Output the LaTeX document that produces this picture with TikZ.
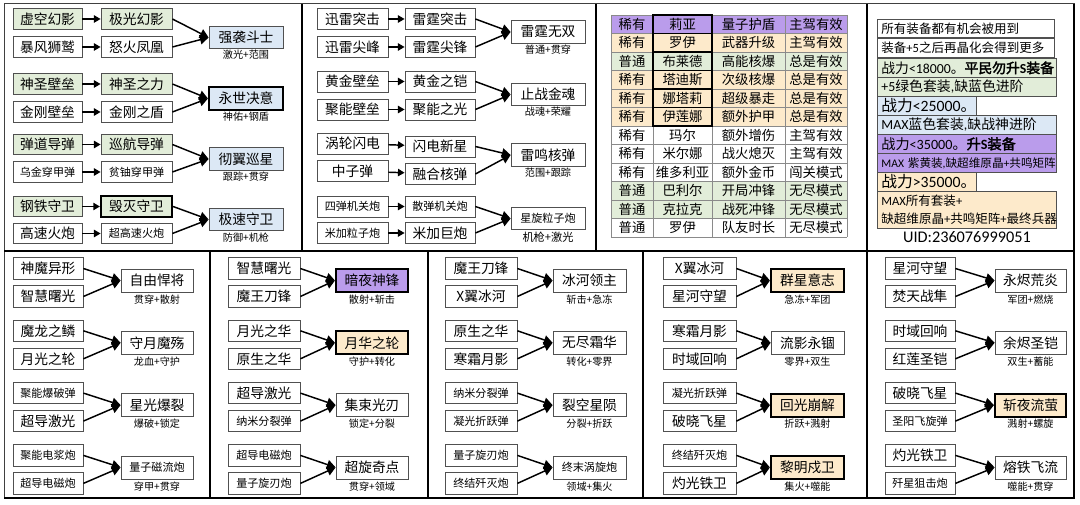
\documentclass[tikz,border=0pt]{standalone}
\usepackage{fontspec}
\usetikzlibrary{arrows.meta}
\newfontfamily\cjk{Noto Sans CJK SC}
\newfontfamily\cjkb[FakeBold=2.5]{Noto Sans CJK SC}
\newfontfamily\lat{Carlito}
\definecolor{cgrn}{HTML}{E2EDD9}
\definecolor{cblu}{HTML}{DCE8F5}
\definecolor{cpur}{HTML}{BA9CEB}
\definecolor{ccrm}{HTML}{FDEACB}
\definecolor{edge}{HTML}{505050}
\definecolor{tgridc}{HTML}{8A8A8A}
\newcommand\smf{\fontsize{8.3}{10}\selectfont}
\newcommand\TA[1]{%
  \draw[arr] (#1a) -- (#1b);
  \draw[arr] (#1c) -- (#1d);
  \draw[conv] (#1b.east) -- (#1r.west);
  \draw[conv] (#1d.east) -- (#1r.west);}
\newcommand\BG[9]{%
  \pgfmathsetmacro\yT{268.5+62.3*#4}%
  \pgfmathsetmacro\yB{\yT+28}%
  \pgfmathsetmacro\yR{\yT+12}%
  \node[inp,inw,ht=21.5] (#1a) at (#2,\yT) {#5};
  \node[inp,inw,ht=21.5] (#1b) at (#2,\yB) {#6};
  \node[res,rsw,ht=23,#8] (#1r) at (#3,\yR) {#7};
  \node[lab] (#1l) at (#3,\yR+19) {#9};
  \draw[conv] (#1a.east) -- (#1r.west);
  \draw[conv] (#1b.east) -- (#1r.west);}
\begin{document}
\begin{tikzpicture}[x=0.75pt,y=-0.75pt,
  wd/.style={minimum width=#1*0.75pt},
  ht/.style={minimum height=#1*0.75pt},
  inp/.style={draw=edge,line width=0.6pt,fill=white,inner sep=0pt,ht=20.5,font=\cjk\fontsize{10.3}{12}\selectfont},
  res/.style={inp,ht=22.5},
  lab/.style={inner sep=0pt,font=\cjk\fontsize{7.6}{9}\selectfont},
  thk/.style={draw=black,line width=1.6pt},
  arr/.style={-{Triangle[length=5pt,width=5.5pt]},line width=1.1pt},
  conv/.style={-{Triangle[length=6.5pt,width=7pt]},line width=1.1pt},
  tgrid/.style={draw=tgridc,line width=0.5pt},
  tcell/.style={inner sep=0pt,font=\cjk\fontsize{10}{12}\selectfont},
  p4/.style={draw=edge,line width=0.6pt,anchor=north west,inner xsep=3pt,inner ysep=0pt,align=left,text width=#1*0.75pt-6pt,minimum width=#1*0.75pt},
  f94/.style={font=\cjk\fontsize{9.4}{11}\selectfont},
  f104/.style={font=\cjk\fontsize{10.4}{12}\selectfont},
  f106/.style={font=\cjk\fontsize{10.6}{12}\selectfont},
  f118/.style={font=\cjk\fontsize{11.8}{13}\selectfont}]
\useasboundingbox (0,0) rectangle (1080,505);
\fill[white] (0,0) rectangle (1080,505);

% ---------- Panel 1 ----------
\node[inp,wd=69,fill=cgrn] (p1Aa) at (47.5,19) {虚空幻影};
\node[inp,wd=71,fill=cgrn] (p1Ab) at (136.5,19) {极光幻影};
\node[inp,wd=69] (p1Ac) at (47.5,47) {暴风狮鹫};
\node[inp,wd=71] (p1Ad) at (136.5,47) {怒火凤凰};
\node[res,wd=74,fill=cblu] (p1Ar) at (246,37.5) {强袭斗士};
\node[lab] (p1Al) at (246,55) {激光+范围};
\TA{p1A}

\node[inp,wd=69,fill=cgrn] (p1Ba) at (47.5,84) {神圣壁垒};
\node[inp,wd=71,fill=cgrn] (p1Bb) at (136.5,84) {神圣之力};
\node[inp,wd=69] (p1Bc) at (47.5,112) {金刚壁垒};
\node[inp,wd=71] (p1Bd) at (136.5,112) {金刚之盾};
\node[res,wd=74,fill=cblu,thk] (p1Br) at (246,98.5) {永世决意};
\node[lab] (p1Bl) at (246,117) {神佑+钢盾};
\TA{p1B}

\node[inp,wd=69,fill=cgrn] (p1Ca) at (47.5,144.5) {弹道导弹};
\node[inp,wd=71,fill=cgrn] (p1Cb) at (136.5,144.5) {巡航导弹};
\node[inp,wd=69] (p1Cc) at (47.5,172) {\smf 乌金穿甲弹};
\node[inp,wd=71] (p1Cd) at (136.5,172) {\smf 贫铀穿甲弹};
\node[res,wd=74,fill=cblu] (p1Cr) at (246,159) {彻翼巡星};
\node[lab] (p1Cl) at (246,176.5) {跟踪+贯穿};
\TA{p1C}

\node[inp,wd=69,fill=cgrn] (p1Da) at (47.5,206.5) {钢铁守卫};
\node[inp,wd=71,fill=cgrn,thk] (p1Db) at (136.5,206.5) {毁灭守卫};
\node[inp,wd=69] (p1Dc) at (47.5,233.5) {高速火炮};
\node[inp,wd=71] (p1Dd) at (136.5,233.5) {\smf 超高速火炮};
\node[res,wd=74,fill=cblu] (p1Dr) at (246,219.5) {极速守卫};
\node[lab] (p1Dl) at (246,237.5) {防御+机枪};
\TA{p1D}

% ---------- Panel 2 ----------
\node[inp,wd=71,ht=21] (p2Aa) at (352.5,19) {迅雷突击};
\node[inp,wd=70,ht=21] (p2Ab) at (440,19) {雷霆突击};
\node[inp,wd=71,ht=21] (p2Ac) at (352.5,47) {迅雷尖峰};
\node[inp,wd=70,ht=21] (p2Ad) at (440,47) {雷霆尖锋};
\node[res,wd=74] (p2Ar) at (548,32) {雷霆无双};
\node[lab] (p2Al) at (548,50) {普通+贯穿};
\TA{p2A}

\node[inp,wd=71,ht=21] (p2Ba) at (352.5,81.5) {黄金壁垒};
\node[inp,wd=70,ht=21] (p2Bb) at (440,81.5) {黄金之铠};
\node[inp,wd=71,ht=21] (p2Bc) at (352.5,109.5) {聚能壁垒};
\node[inp,wd=70,ht=21] (p2Bd) at (440,109.5) {聚能之光};
\node[res,wd=74] (p2Br) at (548,94.5) {止战金魂};
\node[lab] (p2Bl) at (548,112) {战魂+荣耀};
\TA{p2B}

\node[inp,wd=71,ht=21] (p2Ca) at (352.5,143.5) {涡轮闪电};
\node[inp,wd=70,ht=21] (p2Cb) at (440,146.5) {闪电新星};
\node[inp,wd=71,ht=21] (p2Cc) at (352.5,171) {中子弹};
\node[inp,wd=70,ht=21] (p2Cd) at (440,174) {融合核弹};
\node[res,wd=74] (p2Cr) at (548,155) {雷鸣核弹};
\node[lab] (p2Cl) at (548,173) {范围+跟踪};
\TA{p2C}

\node[inp,wd=71,ht=21] (p2Da) at (352.5,206.5) {\smf 四弹机关炮};
\node[inp,wd=70,ht=21] (p2Db) at (440,206.5) {\smf 散弹机关炮};
\node[inp,wd=71,ht=21] (p2Dc) at (352.5,233) {\smf 米加粒子炮};
\node[inp,wd=70,ht=21] (p2Dd) at (440,233) {米加巨炮};
\node[res,wd=74] (p2Dr) at (548,218.5) {\smf 星旋粒子炮};
\node[lab,font=\cjk\fontsize{8.4}{10}\selectfont] (p2Dl) at (548,237) {机枪+激光};
\TA{p2D}

% ---------- Panel 3: table ----------
\foreach \r/\cc in {1/cpur,2/ccrm,3/cgrn,4/ccrm,5/ccrm,6/ccrm,7/white,8/white,9/white,10/cgrn,11/cgrn,12/white}
  \fill[\cc] (611,{15+18.5*(\r-1)}) rectangle (847,{15+18.5*\r});
\foreach \x in {611,653,712,785,847} \draw[tgrid] (\x,15) -- (\x,237);
\foreach \r in {0,...,12} \draw[tgrid] (611,{15+18.5*\r}) -- (847,{15+18.5*\r});
\foreach \r in {1,...,6} \draw[line width=1.4pt] (653,{15+18.5*(\r-1)}) rectangle (712,{15+18.5*\r});
\foreach \r/\a/\b/\c/\d in {
1/稀有/莉亚/量子护盾/主驾有效,
2/稀有/罗伊/武器升级/主驾有效,
3/普通/布莱德/高能核爆/总是有效,
4/稀有/塔迪斯/次级核爆/总是有效,
5/稀有/娜塔莉/超级暴走/总是有效,
6/稀有/伊莲娜/额外护甲/总是有效,
7/稀有/玛尔/额外增伤/主驾有效,
8/稀有/米尔娜/战火熄灭/主驾有效,
9/稀有/维多利亚/额外金币/闯关模式,
10/普通/巴利尔/开局冲锋/无尽模式,
11/普通/克拉克/战死冲锋/无尽模式,
12/普通/罗伊/队友时长/无尽模式}{
  \node[tcell] (t\r-1) at (632,{15+18.5*(\r-0.5)}) {\a};
  \node[tcell] (t\r-2) at (682.5,{15+18.5*(\r-0.5)}) {\b};
  \node[tcell] (t\r-3) at (748.5,{15+18.5*(\r-0.5)}) {\c};
  \node[tcell] (t\r-4) at (816,{15+18.5*(\r-0.5)}) {\d};
}

% ---------- Panel 4 ----------
\node[p4=177,ht=18,fill=white,f94] (n1) at (877,19) {\mbox{所有装备都有机会被用到}};
\node[p4=177,ht=19,fill=white,f94] (n2) at (877,38) {\mbox{装备{\lat +5}之后再晶化会得到更多}};
\node[p4=179,ht=19,fill=cgrn,font=\cjk\fontsize{10.35}{12}\selectfont] (n3) at (877,58) {\mbox{战力{\lat <18000}。{\cjkb 平民勿升}{\lat\bfseries S}{\cjkb 装备}}};
\node[p4=179,ht=19,fill=cgrn,f104] (n4) at (877,77) {\mbox{{\lat +5}绿色套装{\lat ,}缺蓝色进阶}};
\node[p4=99,ht=19,fill=cblu,f118] (n5) at (877,96) {\mbox{战力{\lat <25000}。}};
\node[p4=179,ht=19,fill=cblu,f104] (n6) at (877,115) {\mbox{{\lat MAX}蓝色套装{\lat ,}缺战神进阶}};
\node[p4=179,ht=19,fill=cpur,f106] (n7) at (877,134) {\mbox{战力{\lat <35000}。{\cjkb 升}{\lat\bfseries S}{\cjkb 装备}}};
\node[p4=179,ht=19,fill=cpur,font=\cjk\fontsize{8.7}{10}\selectfont] (n8) at (877,153) {\mbox{{\lat MAX }紫黄装{\lat ,}缺超维原晶{\lat +}共鸣矩阵}};
\node[p4=99,ht=19,fill=ccrm,f118] (n9) at (877,172) {\mbox{战力{\lat >35000}。}};
\node[p4=179,ht=37,fill=ccrm,font=\cjk\fontsize{9.4}{14}\selectfont] (n10) at (877,191) {\mbox{{\lat MAX}所有套装{\lat +}}\\\mbox{缺超维原晶{\lat +}共鸣矩阵{\lat +}最终兵器}};
\node[inner sep=0pt,font=\lat\fontsize{12.2}{14}\selectfont] (uid) at (967,237.5) {UID:236076999051};

% ---------- Bottom panels ----------
\begin{scope}[inw/.style={wd=70},rsw/.style={wd=72}]
\BG{qA1}{48}{157}{0}{神魔异形}{智慧曙光}{自由悍将}{}{贯穿+散射}
\BG{qA2}{48}{157}{1}{魔龙之鳞}{月光之轮}{守月魔殇}{}{龙血+守护}
\BG{qA3}{48}{157}{2}{\smf 聚能爆破弹}{超导激光}{星光爆裂}{}{爆破+锁定}
\BG{qA4}{48}{157}{3}{\smf 聚能电浆炮}{\smf 超导电磁炮}{\smf 量子磁流炮}{}{穿甲+贯穿}
\end{scope}
\begin{scope}[inw/.style={wd=72},rsw/.style={wd=72}]
\BG{qB1}{264}{372}{0}{智慧曙光}{魔王刀锋}{暗夜神锋}{fill=cpur,thk}{散射+斩击}
\BG{qB2}{264}{372}{1}{月光之华}{原生之华}{月华之轮}{fill=ccrm,thk}{守护+转化}
\BG{qB3}{264}{372}{2}{超导激光}{\smf 纳米分裂弹}{集束光刃}{}{锁定+分裂}
\BG{qB4}{264}{372}{3}{\smf 超导电磁炮}{\smf 量子旋刃炮}{超旋奇点}{}{贯穿+领域}
\end{scope}
\begin{scope}[inw/.style={wd=72},rsw/.style={wd=73}]
\BG{qC1}{481}{589.5}{0}{魔王刀锋}{X翼冰河}{冰河领主}{}{斩击+急冻}
\BG{qC2}{481}{589.5}{1}{原生之华}{寒霜月影}{无尽霜华}{}{转化+零界}
\BG{qC3}{481}{589.5}{2}{\smf 纳米分裂弹}{\smf 凝光折跃弹}{裂空星陨}{}{分裂+折跃}
\BG{qC4}{481}{589.5}{3}{\smf 量子旋刃炮}{\smf 终结歼灭炮}{\smf 终末涡旋炮}{}{领域+集火}
\end{scope}
\begin{scope}[inw/.style={wd=73},rsw/.style={wd=73}]
\BG{qD1}{699.5}{807.5}{0}{X翼冰河}{星河守望}{群星意志}{fill=ccrm,thk}{急冻+军团}
\BG{qD2}{699.5}{807.5}{1}{寒霜月影}{时域回响}{流影永锢}{}{零界+双生}
\BG{qD3}{699.5}{807.5}{2}{\smf 凝光折跃弹}{破晓飞星}{回光崩解}{fill=ccrm,thk}{折跃+溅射}
\BG{qD4}{699.5}{807.5}{3}{\smf 终结歼灭炮}{灼光铁卫}{黎明戍卫}{fill=ccrm,thk}{集火+噬能}
\end{scope}
\begin{scope}[inw/.style={wd=70},rsw/.style={wd=71}]
\BG{qE1}{920}{1030.5}{0}{星河守望}{焚天战隼}{永烬荒炎}{}{军团+燃烧}
\BG{qE2}{920}{1030.5}{1}{时域回响}{红莲圣铠}{余烬圣铠}{}{双生+蓄能}
\BG{qE3}{920}{1030.5}{2}{破晓飞星}{\smf 圣阳飞旋弹}{斩夜流萤}{fill=ccrm,thk}{溅射+螺旋}
\BG{qE4}{920}{1030.5}{3}{灼光铁卫}{\smf 歼星狙击炮}{熔铁飞流}{}{噬能+贯穿}
\end{scope}

% ---------- Frame ----------
\draw[black!75,line width=0.75pt] (4,4) rectangle (1074,498);
\draw[black,line width=1.6pt] (302,4) -- (302,251);
\draw[black,line width=1.6pt] (596,4) -- (596,251);
\draw[black,line width=1.6pt] (867,4) -- (867,251);
\draw[black,line width=1.6pt] (4,251) -- (1074,251);
\draw[black,line width=1.6pt] (210,251) -- (210,498);
\draw[black,line width=1.6pt] (428,251) -- (428,498);
\draw[black,line width=1.6pt] (643,251) -- (643,498);
\draw[black,line width=1.6pt] (867,251) -- (867,498);
\draw[black,line width=1.6pt] (1074,4) -- (1074,498) -- (4,498);
\end{tikzpicture}
\end{document}
